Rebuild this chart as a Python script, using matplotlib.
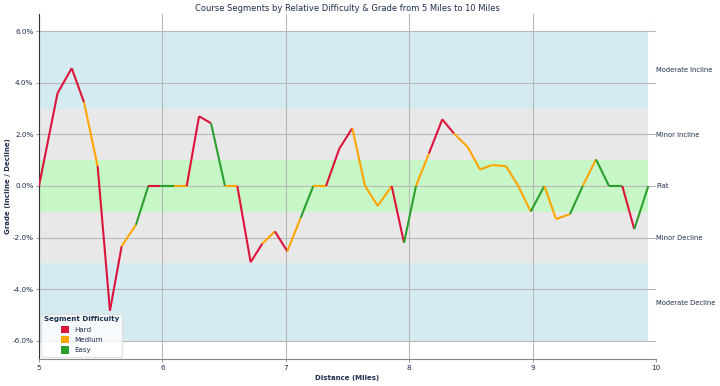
import matplotlib
matplotlib.use("Agg")
import matplotlib.pyplot as plt
from matplotlib.patches import Patch

# ---- data ----
distance = [5.0, 5.15, 5.265, 5.365, 5.475, 5.575, 5.67, 5.786, 5.886, 5.98,
            6.094, 6.197, 6.297, 6.394, 6.507, 6.607, 6.715, 6.81, 6.912, 7.012,
            7.12, 7.223, 7.326, 7.434, 7.539, 7.642, 7.745, 7.858, 7.958, 8.055,
            8.16, 8.268, 8.363, 8.474, 8.574, 8.673, 8.784, 8.884, 8.985, 9.095,
            9.19, 9.303, 9.406, 9.514, 9.619, 9.727, 9.824, 9.938]
grade = [0.0, 3.59, 4.56, 3.24, 0.77, -4.83, -2.33, -1.50, 0.0, 0.0,
         0.0, 0.0, 2.70, 2.43, 0.0, 0.0, -2.95, -2.23, -1.76, -2.53,
         -1.24, 0.0, 0.0, 1.45, 2.24, 0.0, -0.77, 0.0, -2.20, 0.0,
         1.26, 2.58, 2.03, 1.51, 0.64, 0.81, 0.77, 0.0, -0.99, 0.0,
         -1.28, -1.09, 0.0, 1.03, 0.0, 0.0, -1.67, 0.0]
# difficulty of each segment (between consecutive points)
segment_difficulty = [
    "Hard", "Hard", "Hard", "Medium", "Hard", "Hard", "Medium", "Easy", "Hard", "Easy",
    "Medium", "Hard", "Hard", "Easy", "Medium", "Hard", "Hard", "Medium", "Hard", "Medium",
    "Easy", "Medium", "Hard", "Hard", "Medium", "Medium", "Medium", "Hard", "Easy", "Medium",
    "Hard", "Hard", "Medium", "Medium", "Medium", "Medium", "Medium", "Medium", "Easy", "Medium",
    "Medium", "Easy", "Medium", "Easy", "Easy", "Hard", "Easy"]
difficulty_levels = ["Hard", "Medium", "Easy"]
difficulty_colors = {"Hard": "#DC143C", "Medium": "#FFA500", "Easy": "#2ca02c"}

band_names = ["Moderate Decline", "Minor Decline", "Flat", "Minor Incline", "Moderate Incline"]
band_lo = [-6, -3, -1, 1, 3]
band_hi = [-3, -1, 1, 3, 6]
band_colors = ["lightblue", "lightgray", "lightgreen", "lightgray", "lightblue"]
band_label_pos = [-4.5, -2, 0, 2, 4.5]

y_ticks = [-6, -4, -2, 0, 2, 4, 6]
x_ticks = [5, 6, 7, 8, 9, 10]

title = "Course Segments by Relative Difficulty & Grade from 5 Miles to 10 Miles"
text_color = "#1f2f4f"

# ---- figure ----
fig = plt.figure(figsize=(7.2, 3.86), dpi=100)
ax = fig.add_axes([39/720, 1 - 359/386, (656 - 39)/720, (359 - 14)/386])

for lo, hi, c in zip(band_lo, band_hi, band_colors):
    ax.fill_between([distance[0], distance[-1]], lo, hi, color=c, alpha=0.5,
                    linewidth=0, zorder=0.5)

for i, d in enumerate(segment_difficulty):
    ax.plot(distance[i:i + 2], grade[i:i + 2], color=difficulty_colors[d],
            linewidth=1.5, zorder=3, solid_capstyle="butt")

ax.set_xlim(5, 10)
ax.set_ylim(-6.7, 6.66)
ax.set_xticks(x_ticks)
ax.set_xticklabels([str(v) for v in x_ticks])
ax.set_yticks(y_ticks)
ax.set_yticklabels([f"{v:.1f}%" for v in y_ticks])
ax.grid(True, color="#b8b8b8", linewidth=0.8, zorder=1)
ax.tick_params(axis="both", labelsize=5.2, colors="#888888", labelcolor=text_color,
               length=2.5, width=0.6, pad=1.5)

for s in ["top", "right"]:
    ax.spines[s].set_visible(False)
ax.spines["left"].set_color("#333333")
ax.spines["bottom"].set_color("#888888")
ax.spines["left"].set_linewidth(0.8)
ax.spines["bottom"].set_linewidth(0.8)

ax.set_xlabel("Distance (Miles)", fontsize=5.0, fontweight="bold", color=text_color, labelpad=3)
ax.set_ylabel("Grade (Incline / Decline)", fontsize=5.0, fontweight="bold", color=text_color)
ax.yaxis.set_label_coords(-0.045, 0.5)
ax.set_title(title, fontsize=6.0, color=text_color, pad=2)

ax2 = ax.twinx()
ax2.set_ylim(ax.get_ylim())
ax2.set_yticks(band_label_pos)
ax2.set_yticklabels(band_names)
ax2.tick_params(axis="y", length=0, pad=0, labelsize=4.9, labelcolor=text_color)
for s in ax2.spines.values():
    s.set_visible(False)

handles = [Patch(facecolor=difficulty_colors[k], edgecolor="none", label=k)
           for k in difficulty_levels]
leg = ax.legend(handles=handles, title="Segment Difficulty", loc="lower left",
                fontsize=5.1, title_fontsize=5.1, frameon=True, framealpha=0.8,
                edgecolor="#dddddd", handlelength=1.2, handleheight=1.2,
                labelspacing=0.45, borderaxespad=0.35, bbox_to_anchor=(0.0, 0.0))
leg.get_title().set_fontweight("bold")
leg.get_title().set_color(text_color)
for t in leg.get_texts():
    t.set_color(text_color)
leg.set_zorder(5)

fig.savefig("out.png", dpi=100)
